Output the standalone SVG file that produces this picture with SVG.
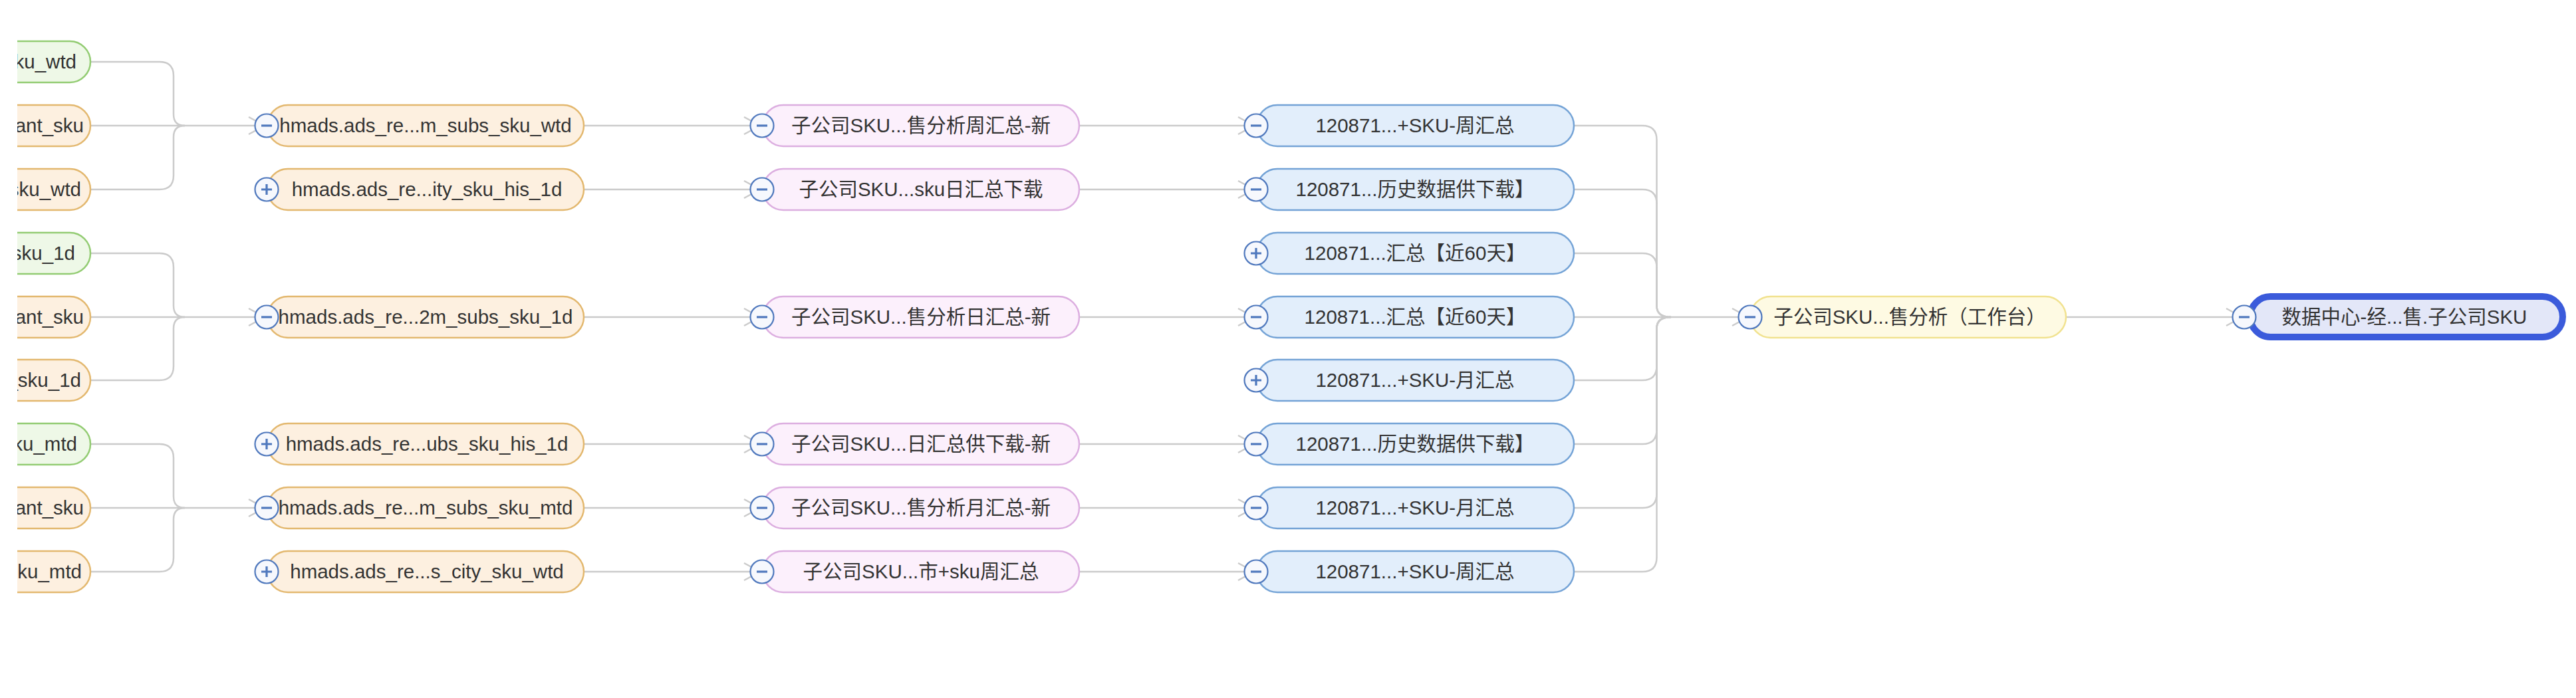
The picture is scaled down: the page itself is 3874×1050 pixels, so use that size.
<svg xmlns="http://www.w3.org/2000/svg" width="3874" height="1050" viewBox="0 0 3874 1050">
<style>
.bg{fill:#ffffff}
.ln{fill:none;stroke:#cbcbcb;stroke-width:2.5}
.t{font-family:"Liberation Sans","Noto Sans CJK SC",sans-serif;font-size:29.5px;fill:#333333;text-anchor:middle}
.te{font-family:"Liberation Sans","Noto Sans CJK SC",sans-serif;font-size:29.5px;fill:#333333;text-anchor:end}
.green{fill:#eef8e7;stroke:#93cc73;stroke-width:2.5}
.orange{fill:#fdf0e0;stroke:#e3b86f;stroke-width:2.5}
.pink{fill:#fcf0fc;stroke:#dcaee0;stroke-width:2.5}
.blue{fill:#e2eefb;stroke:#74a3d6;stroke-width:2.5}
.yellow{fill:#fefae3;stroke:#f1e28f;stroke-width:2.5}
.root{fill:#e3e7f8;stroke:#3b5bdb;stroke-width:10}
.btn{fill:#f6f8fd;stroke:#4f78bd;stroke-width:2.2}
.sg{stroke:#4f78bd;stroke-width:3.2;fill:none}
</style>
<defs>
<marker id="arr" markerUnits="userSpaceOnUse" markerWidth="30" markerHeight="30" viewBox="-27 -15 30 30" refX="0" refY="0" orient="auto">
<path d="M-24,-13 L0,0 L-24,13" fill="none" stroke="#cbcbcb" stroke-width="2.5"/>
</marker>
<clipPath id="leftclip"><rect x="26" y="0" width="400" height="1050"/></clipPath>
</defs>
<rect class="bg" x="0" y="0" width="3874" height="1050"/>

<g id="connectors">
<!-- brace group A: rows 0,1,2 -> row 1 -->
<path class="ln" d="M136,93 H240 Q261,93 261,114 V172 Q261,189 278,189"/>
<path class="ln" d="M136,189 H278"/>
<path class="ln" d="M136,285 H240 Q261,285 261,264 V206 Q261,189 278,189"/>
<path class="ln" d="M278,189 H398" marker-end="url(#arr)"/>
<!-- brace group B: rows 3,4,5 -> row 4 -->
<path class="ln" d="M136,381 H240 Q261,381 261,402 V460 Q261,477 278,477"/>
<path class="ln" d="M136,477 H278"/>
<path class="ln" d="M136,572 H240 Q261,572 261,551 V494 Q261,477 278,477"/>
<path class="ln" d="M278,477 H398" marker-end="url(#arr)"/>
<!-- brace group C: rows 6,7,8 -> row 7 -->
<path class="ln" d="M136,668 H240 Q261,668 261,689 V747 Q261,764 278,764"/>
<path class="ln" d="M136,764 H278"/>
<path class="ln" d="M136,860 H240 Q261,860 261,839 V781 Q261,764 278,764"/>
<path class="ln" d="M278,764 H398" marker-end="url(#arr)"/>
<!-- col2 -> col3 -->
<path class="ln" d="M878,189 H1143" marker-end="url(#arr)"/>
<path class="ln" d="M878,285 H1143" marker-end="url(#arr)"/>
<path class="ln" d="M878,477 H1143" marker-end="url(#arr)"/>
<path class="ln" d="M878,668 H1143" marker-end="url(#arr)"/>
<path class="ln" d="M878,764 H1143" marker-end="url(#arr)"/>
<path class="ln" d="M878,860 H1143" marker-end="url(#arr)"/>
<!-- col3 -> col4 -->
<path class="ln" d="M1623,189 H1886" marker-end="url(#arr)"/>
<path class="ln" d="M1623,285 H1886" marker-end="url(#arr)"/>
<path class="ln" d="M1623,477 H1886" marker-end="url(#arr)"/>
<path class="ln" d="M1623,668 H1886" marker-end="url(#arr)"/>
<path class="ln" d="M1623,764 H1886" marker-end="url(#arr)"/>
<path class="ln" d="M1623,860 H1886" marker-end="url(#arr)"/>
<!-- col4 -> col5 brace -->
<path class="ln" d="M2367,189 H2470 Q2491.5,189 2491.5,210.5 V460 Q2491.5,477 2513,477"/>
<path class="ln" d="M2367,285 H2470 Q2491.5,285 2491.5,306.5 V460 Q2491.5,477 2513,477"/>
<path class="ln" d="M2367,381 H2470 Q2491.5,381 2491.5,402.5 V460 Q2491.5,477 2513,477"/>
<path class="ln" d="M2367,477 H2513"/>
<path class="ln" d="M2367,572 H2470 Q2491.5,572 2491.5,550.5 V494 Q2491.5,477 2513,477"/>
<path class="ln" d="M2367,668 H2470 Q2491.5,668 2491.5,646.5 V494 Q2491.5,477 2513,477"/>
<path class="ln" d="M2367,764 H2470 Q2491.5,764 2491.5,742.5 V494 Q2491.5,477 2513,477"/>
<path class="ln" d="M2367,860 H2470 Q2491.5,860 2491.5,838.5 V494 Q2491.5,477 2513,477"/>
<path class="ln" d="M2513,477 H2629" marker-end="url(#arr)"/>
<!-- col5 -> root -->
<path class="ln" d="M3107,477 H3372" marker-end="url(#arr)"/>
</g>

<!-- column 1 (clipped at left) -->
<g clip-path="url(#leftclip)">
<g id="c1r0"><rect class="green" x="-340" y="62" width="476" height="62" rx="31"/><text class="te" x="115" y="103">ku_wtd</text></g>
<g id="c1r1"><rect class="orange" x="-340" y="158" width="476" height="62" rx="31"/><text class="te" x="126" y="199">ant_sku</text></g>
<g id="c1r2"><rect class="orange" x="-340" y="254" width="476" height="62" rx="31"/><text class="te" x="122" y="295">sku_wtd</text></g>
<g id="c1r3"><rect class="green" x="-340" y="350" width="476" height="62" rx="31"/><text class="te" x="113" y="391">sku_1d</text></g>
<g id="c1r4"><rect class="orange" x="-340" y="446" width="476" height="62" rx="31"/><text class="te" x="126" y="487">ant_sku</text></g>
<g id="c1r5"><rect class="orange" x="-340" y="541" width="476" height="62" rx="31"/><text class="te" x="122" y="582">_sku_1d</text></g>
<g id="c1r6"><rect class="green" x="-340" y="637" width="476" height="62" rx="31"/><text class="te" x="116" y="678">ku_mtd</text></g>
<g id="c1r7"><rect class="orange" x="-340" y="733" width="476" height="62" rx="31"/><text class="te" x="126" y="774">ant_sku</text></g>
<g id="c1r8"><rect class="orange" x="-340" y="829" width="476" height="62" rx="31"/><text class="te" x="123" y="870">ku_mtd</text></g>
</g>

<!-- column 2 -->
<g id="c2r1"><rect class="orange" x="402" y="158" width="476" height="62" rx="31"/><text class="t" x="640" y="199">hmads.ads_re...m_subs_sku_wtd</text><circle class="btn" cx="401" cy="189" r="17.5"/><path class="sg" d="M393,189 H409"/></g>
<g id="c2r2"><rect class="orange" x="402" y="254" width="476" height="62" rx="31"/><text class="t" x="642" y="295">hmads.ads_re...ity_sku_his_1d</text><circle class="btn" cx="401" cy="285" r="17.5"/><path class="sg" d="M393,285 H409 M401,277 V293"/></g>
<g id="c2r4"><rect class="orange" x="402" y="446" width="476" height="62" rx="31"/><text class="t" x="640" y="487">hmads.ads_re...2m_subs_sku_1d</text><circle class="btn" cx="401" cy="477" r="17.5"/><path class="sg" d="M393,477 H409"/></g>
<g id="c2r6"><rect class="orange" x="402" y="637" width="476" height="62" rx="31"/><text class="t" x="642" y="678">hmads.ads_re...ubs_sku_his_1d</text><circle class="btn" cx="401" cy="668" r="17.5"/><path class="sg" d="M393,668 H409 M401,660 V676"/></g>
<g id="c2r7"><rect class="orange" x="402" y="733" width="476" height="62" rx="31"/><text class="t" x="640" y="774">hmads.ads_re...m_subs_sku_mtd</text><circle class="btn" cx="401" cy="764" r="17.5"/><path class="sg" d="M393,764 H409"/></g>
<g id="c2r8"><rect class="orange" x="402" y="829" width="476" height="62" rx="31"/><text class="t" x="642" y="870">hmads.ads_re...s_city_sku_wtd</text><circle class="btn" cx="401" cy="860" r="17.5"/><path class="sg" d="M393,860 H409 M401,852 V868"/></g>

<!-- column 3 -->
<g id="c3r1"><rect class="pink" x="1147" y="158" width="476" height="62" rx="31"/><text class="t" x="1385" y="199">子公司SKU...售分析周汇总-新</text><circle class="btn" cx="1146" cy="189" r="17.5"/><path class="sg" d="M1138,189 H1154"/></g>
<g id="c3r2"><rect class="pink" x="1147" y="254" width="476" height="62" rx="31"/><text class="t" x="1385" y="295">子公司SKU...sku日汇总下载</text><circle class="btn" cx="1146" cy="285" r="17.5"/><path class="sg" d="M1138,285 H1154"/></g>
<g id="c3r4"><rect class="pink" x="1147" y="446" width="476" height="62" rx="31"/><text class="t" x="1385" y="487">子公司SKU...售分析日汇总-新</text><circle class="btn" cx="1146" cy="477" r="17.5"/><path class="sg" d="M1138,477 H1154"/></g>
<g id="c3r6"><rect class="pink" x="1147" y="637" width="476" height="62" rx="31"/><text class="t" x="1385" y="678">子公司SKU...日汇总供下载-新</text><circle class="btn" cx="1146" cy="668" r="17.5"/><path class="sg" d="M1138,668 H1154"/></g>
<g id="c3r7"><rect class="pink" x="1147" y="733" width="476" height="62" rx="31"/><text class="t" x="1385" y="774">子公司SKU...售分析月汇总-新</text><circle class="btn" cx="1146" cy="764" r="17.5"/><path class="sg" d="M1138,764 H1154"/></g>
<g id="c3r8"><rect class="pink" x="1147" y="829" width="476" height="62" rx="31"/><text class="t" x="1385" y="870">子公司SKU...市+sku周汇总</text><circle class="btn" cx="1146" cy="860" r="17.5"/><path class="sg" d="M1138,860 H1154"/></g>

<!-- column 4 -->
<g id="c4r1"><rect class="blue" x="1890" y="158" width="477" height="62" rx="31"/><text class="t" x="2128" y="199">120871...+SKU-周汇总</text><circle class="btn" cx="1889" cy="189" r="17.5"/><path class="sg" d="M1881,189 H1897"/></g>
<g id="c4r2"><rect class="blue" x="1890" y="254" width="477" height="62" rx="31"/><text class="t" x="2128" y="295">120871...历史数据供下载】</text><circle class="btn" cx="1889" cy="285" r="17.5"/><path class="sg" d="M1881,285 H1897"/></g>
<g id="c4r3"><rect class="blue" x="1890" y="350" width="477" height="62" rx="31"/><text class="t" x="2128" y="391">120871...汇总【近60天】</text><circle class="btn" cx="1889" cy="381" r="17.5"/><path class="sg" d="M1881,381 H1897 M1889,373 V389"/></g>
<g id="c4r4"><rect class="blue" x="1890" y="446" width="477" height="62" rx="31"/><text class="t" x="2128" y="487">120871...汇总【近60天】</text><circle class="btn" cx="1889" cy="477" r="17.5"/><path class="sg" d="M1881,477 H1897"/></g>
<g id="c4r5"><rect class="blue" x="1890" y="541" width="477" height="62" rx="31"/><text class="t" x="2128" y="582">120871...+SKU-月汇总</text><circle class="btn" cx="1889" cy="572" r="17.5"/><path class="sg" d="M1881,572 H1897 M1889,564 V580"/></g>
<g id="c4r6"><rect class="blue" x="1890" y="637" width="477" height="62" rx="31"/><text class="t" x="2128" y="678">120871...历史数据供下载】</text><circle class="btn" cx="1889" cy="668" r="17.5"/><path class="sg" d="M1881,668 H1897"/></g>
<g id="c4r7"><rect class="blue" x="1890" y="733" width="477" height="62" rx="31"/><text class="t" x="2128" y="774">120871...+SKU-月汇总</text><circle class="btn" cx="1889" cy="764" r="17.5"/><path class="sg" d="M1881,764 H1897"/></g>
<g id="c4r8"><rect class="blue" x="1890" y="829" width="477" height="62" rx="31"/><text class="t" x="2128" y="870">120871...+SKU-周汇总</text><circle class="btn" cx="1889" cy="860" r="17.5"/><path class="sg" d="M1881,860 H1897"/></g>

<!-- column 5 -->
<g id="c5"><rect class="yellow" x="2632" y="446" width="475" height="62" rx="31"/><text class="t" x="2872" y="487">子公司SKU...售分析（工作台）</text><circle class="btn" cx="2632" cy="477" r="17.5"/><path class="sg" d="M2624,477 H2640"/></g>

<!-- root -->
<g id="root"><rect class="root" x="3384" y="446" width="470" height="61" rx="30.5"/><text class="t" x="3616" y="487">数据中心-经...售.子公司SKU</text><circle class="btn" cx="3375" cy="477" r="17.5"/><path class="sg" d="M3367,477 H3383"/></g>
</svg>
